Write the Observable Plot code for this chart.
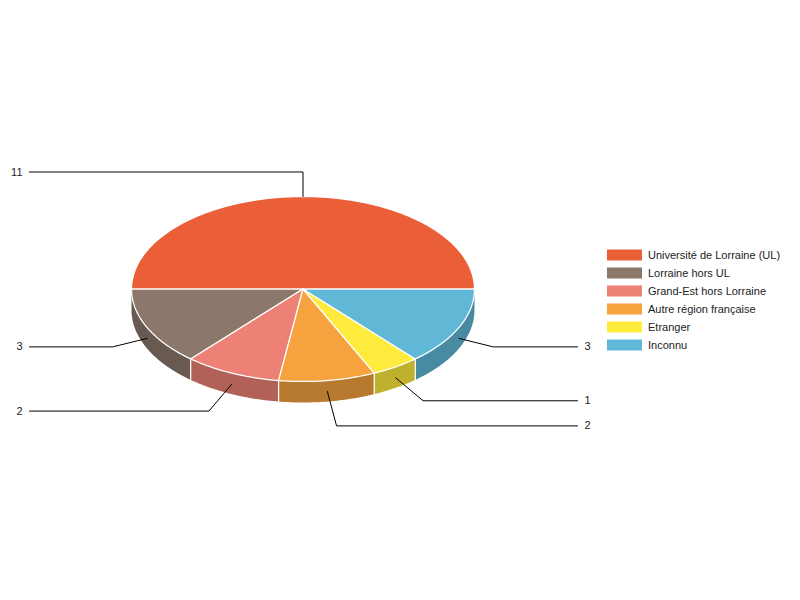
<!DOCTYPE html>
<html>
<head>
<meta charset="utf-8">
<script src="https://cdn.jsdelivr.net/npm/d3@7"></script>
<script src="https://cdn.jsdelivr.net/npm/@observablehq/plot@0.6"></script>
<style>html,body{margin:0;padding:0;background:#fff}</style>
</head>
<body>
<div id="chart"></div>
<script>
const categories = ["Université de Lorraine (UL)", "Lorraine hors UL", "Grand-Est hors Lorraine", "Autre région française", "Etranger", "Inconnu"];
const counts = [11, 3, 2, 2, 1, 3];
const topColors = ["#EA5F38", "#8B786A", "#EE8175", "#F5A23F", "#FFEB3D", "#60B7D6"];
const sideColors = ["#B04729", "#685A50", "#B26158", "#B87A2F", "#BFB02E", "#488AA1"];
const leaderReach = [1.265, 1.22, 1.32, 1.375, 1.295, 1.22];

const cx = 302.5, cy = 288.5, rx = 171.5, ry = 92.5, depth = 21;
const px = (a, k = 1) => cx + k * rx * Math.cos(a);
const py = (a, k = 1) => cy - k * ry * Math.sin(a);

const arcs = d3.pie().sort(null)(counts);
const sweep = (a0, a1) => {
  const n = Math.max(2, Math.ceil((a1 - a0) * 60));
  return d3.range(n + 1).map(i => a0 + (a1 - a0) * i / n);
};

const topPts = [], sidePts = [], dividers = [], leaders = [], labels = [];
arcs.forEach((arc, i) => {
  const a0 = arc.startAngle, a1 = arc.endAngle, mid = (a0 + a1) / 2;
  const rim = sweep(a0, a1).map(a => ({x: px(a), y: py(a)}));
  const ring = [{x: cx, y: cy}, ...rim, {x: cx, y: cy}];
  ring.forEach(p => topPts.push({...p, k: i, fill: topColors[i]}));
  if (Math.sin(mid) < 0) {
    const front = sweep(Math.max(a0, Math.PI), Math.min(a1, 2 * Math.PI));
    const wall = [...front.map(a => ({x: px(a), y: py(a)})),
                  ...front.slice().reverse().map(a => ({x: px(a), y: py(a) + depth}))];
    wall.forEach(p => sidePts.push({...p, k: i, fill: sideColors[i]}));
    if (a0 > Math.PI + 1e-6) {
      dividers.push({x: px(a0), y: py(a0), k: i}, {x: px(a0), y: py(a0) + depth, k: i});
    }
  }
  const drop = Math.sin(mid) < -1e-6 ? 11 : 0;
  const ex = px(mid, leaderReach[i]), ey = py(mid, leaderReach[i]) + drop;
  const toRight = ex > cx + 1;
  const endX = toRight ? 577 : 29;
  leaders.push({x: px(mid), y: py(mid) + drop, k: i}, {x: ex, y: ey, k: i}, {x: endX, y: ey, k: i});
  labels.push({x: toRight ? 584 : 22, y: ey, text: String(counts[i]), anchor: toRight ? "start" : "end"});
});

const legend = categories.map((name, i) => ({name, color: topColors[i], row: 255 + 18 * i}));
const font = {fontFamily: "'Liberation Sans', Arial, sans-serif", fontSize: 11, fill: "#222"};

const chart = Plot.plot({
  width: 800, height: 600,
  marginTop: 0, marginRight: 0, marginBottom: 0, marginLeft: 0,
  x: {domain: [0, 800], range: [0, 800], axis: null},
  y: {domain: [0, 600], range: [0, 600], axis: null},
  color: {type: "identity"},
  marks: [
    Plot.line(sidePts, {x: "x", y: "y", z: "k", fill: "fill", stroke: null}),
    Plot.line(dividers, {x: "x", y: "y", z: "k", stroke: "#fff", strokeWidth: 1.25}),
    Plot.line(topPts, {x: "x", y: "y", z: "k", fill: "fill", stroke: "#fff", strokeWidth: 1.25, strokeLinejoin: "round"}),
    Plot.line(leaders, {x: "x", y: "y", z: "k", stroke: "#000", strokeWidth: 1}),
    Plot.text(labels.filter(d => d.anchor === "end"), {x: "x", y: "y", text: "text", textAnchor: "end", ...font}),
    Plot.text(labels.filter(d => d.anchor === "start"), {x: "x", y: "y", text: "text", textAnchor: "start", ...font}),
    Plot.rect(legend, {x1: () => 607, x2: () => 642, y1: d => d.row - 5.5, y2: d => d.row + 5.5, fill: "color"}),
    Plot.text(legend, {x: () => 647.5, y: "row", text: "name", textAnchor: "start", ...font})
  ]
});
document.getElementById("chart").append(chart);
</script>
</body>
</html>
